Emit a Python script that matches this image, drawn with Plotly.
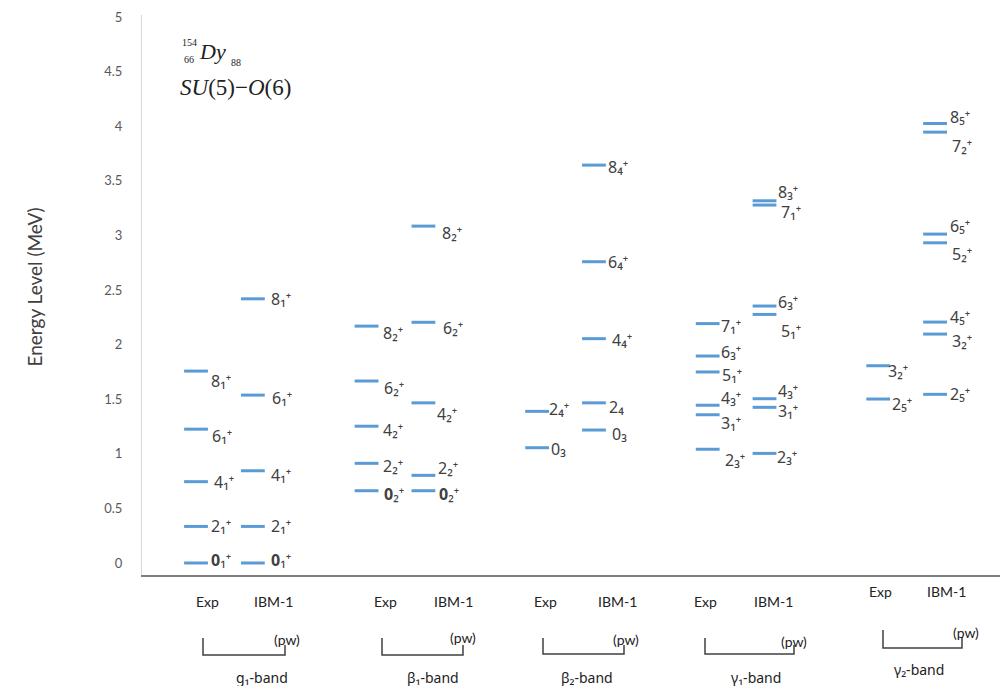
import plotly.graph_objects as go

# ---------------- data ----------------
bands = ["g₁-band", "β₁-band", "β₂-band", "γ₁-band", "γ₂-band"]
methods = ["Exp", "IBM-1"]

g1_exp = [0.0, 0.335, 0.745, 1.226, 1.758]
g1_ibm = [0.0, 0.335, 0.845, 1.538, 2.420]
b1_exp = [0.662, 0.913, 1.253, 1.667, 2.170]
b1_ibm = [0.662, 0.803, 1.467, 2.205, 3.086]
b2_exp = [1.056, 1.389]
b2_ibm = [1.218, 1.467, 2.055, 2.760, 3.645]
y1_exp = [1.042, 1.358, 1.445, 1.750, 1.896, 2.193]
y1_ibm = [1.004, 1.426, 1.505, 2.277, 2.354, 3.279, 3.318]
y2_exp = [1.502, 1.807]
y2_ibm = [1.545, 2.097, 2.207, 2.933, 3.013, 3.947, 4.026]

g1_exp_lab = ["<b>0</b>₁⁺", "2₁⁺", "4₁⁺", "6₁⁺", "8₁⁺"]
g1_ibm_lab = ["<b>0</b>₁⁺", "2₁⁺", "4₁⁺", "6₁⁺", "8₁⁺"]
b1_exp_lab = ["<b>0</b>₂⁺", "2₂⁺", "4₂⁺", "6₂⁺", "8₂⁺"]
b1_ibm_lab = ["<b>0</b>₂⁺", "2₂⁺", "4₂⁺", "6₂⁺", "8₂⁺"]
b2_exp_lab = ["0₃", "2₄⁺"]
b2_ibm_lab = ["0₃", "2₄", "4₄⁺", "6₄⁺", "8₄⁺"]
y1_exp_lab = ["2₃⁺", "3₁⁺", "4₃⁺", "5₁⁺", "6₃⁺", "7₁⁺"]
y1_ibm_lab = ["2₃⁺", "3₁⁺", "4₃⁺", "5₁⁺", "6₃⁺", "7₁⁺", "8₃⁺"]
y2_exp_lab = ["2₅⁺", "3₂⁺"]
y2_ibm_lab = ["2₅⁺", "3₂⁺", "4₅⁺", "5₂⁺", "6₅⁺", "7₂⁺", "8₅⁺"]

y_ticks = [0, 0.5, 1, 1.5, 2, 2.5, 3, 3.5, 4, 4.5, 5]

# ---------------- label placement (style, pixels) ----------------
# (dx from level centre to text left, dy downward shift) per label
g1_exp_off = [(16, -3), (16, 0), (19, 0), (17, 7), (16, 10)]
g1_ibm_off = [(19, -3), (19, 0), (19, 4), (20, 3), (19, 0)]
b1_exp_off = [(18, 3), (17, 3), (17, 4), (18, 7), (17, 7)]
b1_ibm_off = [(17, 3), (16, -7), (15, 11), (21, 6), (20, 7)]
b2_exp_off = [(15, 1), (13, -2)]
b2_ibm_off = [(19, 4), (16, 4), (19, 1), (15, 0), (15, 2)]
y1_exp_off = [(18, 11), (14, 8), (14, -7), (15, 3), (14, -4), (14, 2)]
y1_ibm_off = [(13, 4), (14, 4), (14, -8), (17, 17), (14, -4), (17, 7), (14, -9)]
y2_exp_off = [(15, 5), (11, 5)]
y2_ibm_off = [(16, 0), (18, 7), (16, -5), (18, 11), (16, -8), (18, 14), (16, -7)]

columns = [
    (g1_exp, g1_exp_lab, g1_exp_off), (g1_ibm, g1_ibm_lab, g1_ibm_off),
    (b1_exp, b1_exp_lab, b1_exp_off), (b1_ibm, b1_ibm_lab, b1_ibm_off),
    (b2_exp, b2_exp_lab, b2_exp_off), (b2_ibm, b2_ibm_lab, b2_ibm_off),
    (y1_exp, y1_exp_lab, y1_exp_off), (y1_ibm, y1_ibm_lab, y1_ibm_off),
    (y2_exp, y2_exp_lab, y2_exp_off), (y2_ibm, y2_ibm_lab, y2_ibm_off),
]

W, H = 1000, 686
PL, PR, PT, PB = 142, 1000, 15, 575


def px(xp):
    return (xp - PL) / (PR - PL)


def py(yp):
    return (PB - yp) / (PB - PT)


BLUE = "#5B9BD5"
TXT = "#404040"
FONT = "Lato, 'Open Sans', sans-serif"
LFONT = "'Noto Sans', 'DejaVu Sans', sans-serif"

fig = go.Figure()
annotations = []

for i, (vals, labs, offs) in enumerate(columns):
    band = i // 2
    slot = i % 2
    xpos = 3 * band + slot + 1
    fig.add_trace(go.Scatter(
        x=[xpos] * len(vals), y=vals, mode="markers",
        marker=dict(symbol="line-ew", size=17, color=BLUE,
                    line=dict(color=BLUE, width=3)),
        showlegend=False, hoverinfo="skip",
        name=f"{bands[band]} {methods[slot]}",
    ))
    for v, lab, (dx, dy) in zip(vals, labs, offs):
        annotations.append(dict(
            x=xpos, y=v, xref="x", yref="y", text=lab, showarrow=False,
            xanchor="left", yanchor="middle", xshift=dx - 2, yshift=-dy,
            borderpad=0,
            font=dict(family=LFONT, size=16, color=TXT),
        ))

# y-axis title
annotations.append(dict(x=px(20), y=py(287), xref="paper", yref="paper",
                        text="Energy Level (MeV)", textangle=-90, showarrow=False,
                        font=dict(family=FONT, size=19, color=TXT)))


def ann(text, xl, yc, size, family, anchor="left", color="#222222"):
    annotations.append(dict(x=px(xl), y=py(yc), xref="paper", yref="paper",
                            text=text, showarrow=False, xanchor=anchor, yanchor="middle",
                            font=dict(family=family, size=size, color=color)))


SERIF = "'Liberation Serif', 'DejaVu Serif', serif"
ann("154", 180, 42, 10, SERIF)
ann("66", 182, 59, 10, SERIF)
ann("<i>Dy</i>", 197, 51, 22, SERIF)
ann("88", 229, 62, 10, SERIF)
ann("<i>SU</i>(5)−<i>O</i>(6)", 178, 88, 23, SERIF)

# bottom labels
exp_pos = [(207, 601), (385, 601), (545, 601), (705, 601), (880, 592)]
ibm_pos = [(273, 601), (453, 601), (617, 601), (773, 601), (946, 592)]
pw_pos = [(287, 639), (463, 637), (626, 639), (794, 641), (966, 632)]
band_pos = [(262, 677), (433, 677), (587, 677), (756, 677), (919, 669)]
brackets = [(203, 638, 655, 285, 645), (382, 638, 655, 463, 645),
            (543, 638, 654, 624, 645), (705, 638, 654, 794, 645),
            (883, 630, 648, 962, 637)]

shapes = []
for b in range(len(bands)):
    ann(methods[0], exp_pos[b][0], exp_pos[b][1], 14, FONT, "center", "#222222")
    ann(methods[1], ibm_pos[b][0], ibm_pos[b][1], 14, FONT, "center", "#222222")
    ann("(pw)", pw_pos[b][0], pw_pos[b][1], 14, FONT, "center", "#222222")
    ann(bands[b], band_pos[b][0], band_pos[b][1], 14, LFONT, "center", "#222222")
    lx, ty, by, rx, rty = brackets[b]
    path = (f"M {px(lx)} {py(ty)} L {px(lx)} {py(by)} L {px(rx)} {py(by)} L {px(rx)} {py(rty)}")
    shapes.append(dict(type="path", xref="paper", yref="paper", path=path,
                       line=dict(color="#404040", width=1.5)))

fig.update_layout(
    width=W, height=H,
    margin=dict(l=PL, r=W - PR, t=PT, b=H - PB, pad=0),
    paper_bgcolor="white", plot_bgcolor="white",
    xaxis=dict(range=[0.05, 15.142], showgrid=False, zeroline=False,
               showticklabels=False, ticks="", showline=True,
               linecolor="#7f7f7f", linewidth=2, mirror=False),
    yaxis=dict(range=[-0.11, 5.02], tickvals=y_ticks, ticktext=[f"{t:g}" for t in y_ticks],
               showgrid=False, zeroline=False, showline=True, linecolor="#d9d9d9",
               linewidth=1, ticks="", ticklabelstandoff=16,
               tickfont=dict(family=FONT, size=13, color="#595959")),
    annotations=annotations, shapes=shapes,
    showlegend=False,
)

fig.write_html("out.html", config={"displayModeBar": False},
               post_script="document.body.style.margin='0px';document.body.style.overflow='hidden';")
